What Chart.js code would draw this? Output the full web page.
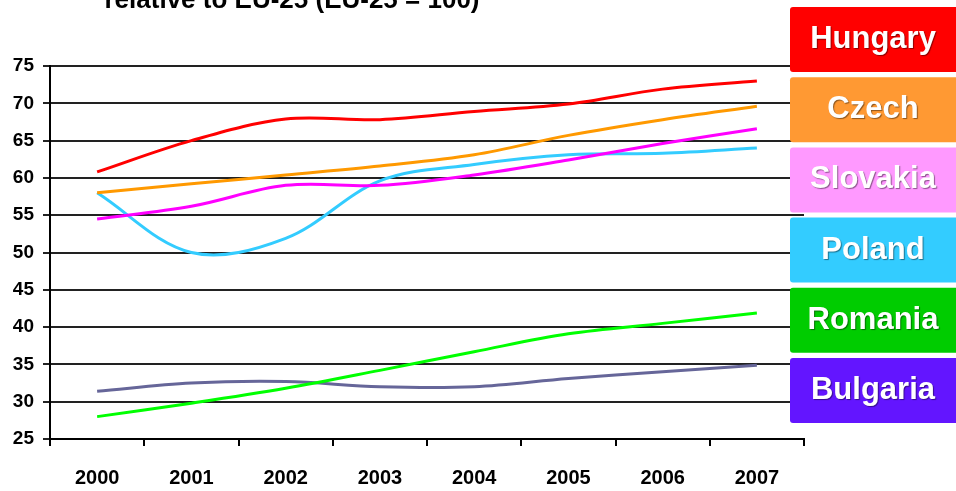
<!DOCTYPE html>
<html>
<head>
<meta charset="utf-8">
<script src="https://cdn.jsdelivr.net/npm/chart.js@4/dist/chart.umd.min.js"></script>
<style>
  html, body { margin: 0; padding: 0; background: #fff; }
  canvas { display: block; }
</style>
</head>
<body>
<canvas id="c" width="956" height="491"></canvas>
<script>
// GDP per head in PPS, index EU-25 = 100
const titleText = 'relative to EU-25 (EU-25 = 100)';
const years = ['2000', '2001', '2002', '2003', '2004', '2005', '2006', '2007'];
const countries = ['Hungary', 'Czech', 'Slovakia', 'Poland', 'Romania', 'Bulgaria'];

const hungary  = [60.8, 65.0, 67.9, 67.8, 68.9, 69.9, 71.9, 73.0];
const czech    = [58.0, 59.2, 60.4, 61.6, 63.1, 65.7, 67.8, 69.6];
const slovakia = [54.5, 56.2, 59.0, 59.0, 60.4, 62.4, 64.6, 66.6];
const poland   = [58.0, 50.0, 51.9, 59.6, 61.8, 63.1, 63.3, 64.0];
const romania  = [28.0, 29.8, 31.8, 34.2, 36.7, 39.1, 40.5, 41.9];
const bulgaria = [31.4, 32.5, 32.7, 32.0, 32.0, 33.1, 34.0, 34.9];

const lineColors  = ['#ff0000', '#ff9900', '#ff00ff', '#33ccff', '#00ff00', '#666699'];
const labelColors = ['#ff0000', '#ff9933', '#ff99ff', '#33ccff', '#00cc00', '#6315ff'];

const series = [hungary, czech, slovakia, poland, romania, bulgaria];

const sans = '"Liberation Sans", Arial, sans-serif';

// title line at the top edge of the canvas
const titlePlugin = {
  id: 'topTitle',
  afterDraw(chart) {
    const ctx = chart.ctx;
    ctx.save();
    ctx.font = 'bold 26px ' + sans;
    ctx.fillStyle = '#000';
    ctx.textAlign = 'center';
    ctx.textBaseline = 'alphabetic';
    ctx.fillText(titleText, 292, 8);
    ctx.restore();
  }
};

// coloured name tags stacked on the right
const tagPlugin = {
  id: 'nameTags',
  afterDraw(chart) {
    const ctx = chart.ctx;
    const x0 = 790, x1 = chart.width, h = 65, step = 70.2, top0 = 7;
    chart.data.datasets.forEach((ds, i) => {
      const y = top0 + i * step;
      ctx.save();
      ctx.fillStyle = labelColors[i];
      ctx.beginPath();
      ctx.roundRect(x0, y, x1 - x0 + 4, h, 3);
      ctx.fill();
      ctx.font = 'bold 31px ' + sans;
      ctx.textAlign = 'center';
      ctx.textBaseline = 'alphabetic';
      ctx.shadowColor = 'rgba(0,0,0,0.45)';
      ctx.shadowBlur = 1;
      ctx.shadowOffsetX = 1;
      ctx.shadowOffsetY = 1;
      ctx.fillStyle = '#fff';
      ctx.fillText(ds.label, 873, y + 41);
      ctx.restore();
    });
  }
};

new Chart(document.getElementById('c'), {
  type: 'line',
  data: {
    labels: years,
    datasets: countries.map((name, i) => ({
      label: name,
      data: series[i],
      borderColor: lineColors[i],
      backgroundColor: lineColors[i],
      borderWidth: 3,
      pointRadius: 0,
      tension: 0.35,
      fill: false
    }))
  },
  options: {
    responsive: false,
    animation: false,
    devicePixelRatio: 1,
    layout: { padding: { top: 66, right: 152, bottom: 0, left: 0 } },
    plugins: {
      legend: { display: false },
      title: { display: false },
      tooltip: { enabled: false }
    },
    scales: {
      x: {
        offset: true,
        afterFit(scale) { scale.height = 52; },
        grid: { offset: true, drawOnChartArea: false, drawTicks: true, tickLength: 7, color: '#000', lineWidth: 2 },
        border: { display: true, color: '#000', width: 2 },
        ticks: {
          color: '#000',
          padding: 20,
          maxRotation: 0,
          font: { family: sans, weight: 'bold', size: 20 }
        }
      },
      y: {
        min: 25,
        max: 75,
        afterFit(scale) { scale.width = 50; },
        grid: { color: '#222', lineWidth: 2, drawTicks: true, tickLength: 7 },
        border: { display: true, color: '#000', width: 2 },
        ticks: {
          stepSize: 5,
          color: '#000',
          padding: 9,
          font: { family: sans, weight: 'bold', size: 19 }
        }
      }
    }
  },
  plugins: [titlePlugin, tagPlugin]
});
</script>
</body>
</html>
